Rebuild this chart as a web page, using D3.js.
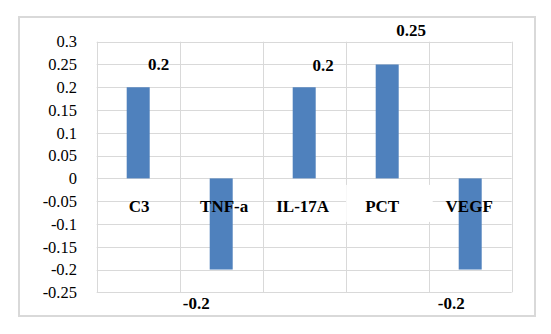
<!DOCTYPE html>
<html>
<head>
<meta charset="utf-8">
<script src="https://cdn.jsdelivr.net/npm/d3@7"></script>
<style>
  html, body { margin: 0; padding: 0; background: #fff; }
  svg { display: block; }
  svg text { font-family: "Liberation Serif", "Times New Roman", Times, serif; }
</style>
</head>
<body>
<svg id="chart" width="551" height="334"></svg>
<script>
const categories = ["C3", "TNF-a", "IL-17A", "PCT", "VEGF"];
const values = [0.2, -0.2, 0.2, 0.25, -0.2];
const valueLabels = ["0.2", "-0.2", "0.2", "0.25", "-0.2"];
const yTicks = [0.3, 0.25, 0.2, 0.15, 0.1, 0.05, 0, -0.05, -0.1, -0.15, -0.2, -0.25];
const yTickLabels = ["0.3", "0.25", "0.2", "0.15", "0.1", "0.05", "0", "-0.05", "-0.1", "-0.15", "-0.2", "-0.25"];

// layout-only offsets for the manually placed data labels (pixels)
const labelDx = [20.5, -25, 19, 24, -19];
const labelDy = [-17, 39, -16, -28, 39];
const catLabelDx = [1, 3, -1.5, -5, -1];

const W = 551, H = 334;
const plot = { left: 96.7, right: 511.7, top: 41.7, bottom: 292.3 };
const barW = 23;
const gridColor = "#d9d9d9";
const barColor = "#4f81bd";

const svg = d3.select("#chart");
svg.append("rect").attr("width", W).attr("height", H).attr("fill", "#fff");

// outer chart border
svg.append("rect")
  .attr("x", 19).attr("y", 17).attr("width", 516).attr("height", 299)
  .attr("fill", "none").attr("stroke", gridColor).attr("stroke-width", 2);

const x = d3.scaleBand().domain(categories).range([plot.left, plot.right]).paddingInner(0).paddingOuter(0);
const y = d3.scaleLinear().domain([-0.25, 0.3]).range([plot.bottom, plot.top]);

// horizontal gridlines
svg.append("g").selectAll("line").data(yTicks).join("line")
  .attr("x1", plot.left).attr("x2", plot.right)
  .attr("y1", d => Math.round(y(d)) + 0.5).attr("y2", d => Math.round(y(d)) + 0.5)
  .attr("stroke", gridColor).attr("stroke-width", 1);

// vertical gridlines at category boundaries
const edges = categories.map(c => x(c)).concat([plot.right]);
svg.append("g").selectAll("line").data(edges).join("line")
  .attr("x1", d => Math.round(d) + 0.5).attr("x2", d => Math.round(d) + 0.5)
  .attr("y1", plot.top).attr("y2", plot.bottom)
  .attr("stroke", gridColor).attr("stroke-width", 1);

// y tick labels
svg.append("g").selectAll("text").data(yTicks).join("text")
  .attr("x", 77).attr("y", d => y(d))
  .attr("dy", "0.35em")
  .attr("text-anchor", "end")
  .attr("font-size", 16.5)
  .attr("fill", "#000")
  .text((d, i) => yTickLabels[i]);

// bars
const cx = c => x(c) + x.bandwidth() / 2;
svg.append("g").selectAll("rect").data(categories).join("rect")
  .attr("x", c => cx(c) - barW / 2)
  .attr("width", barW)
  .attr("y", (c, i) => y(Math.max(0, values[i])))
  .attr("height", (c, i) => Math.abs(y(values[i]) - y(0)))
  .attr("fill", barColor);

// white box behind PCT label
const pctI = categories.indexOf("PCT");
svg.append("rect")
  .attr("x", x(categories[pctI]) + 0.5)
  .attr("y", y(0) + 6.5)
  .attr("width", x.bandwidth() + 3.5)
  .attr("height", 37)
  .attr("fill", "#fff");

// category labels
svg.append("g").selectAll("text").data(categories).join("text")
  .attr("x", (c, i) => cx(c) + catLabelDx[i])
  .attr("y", y(0) + 34)
  .attr("text-anchor", "middle")
  .attr("font-size", 17).attr("font-weight", "bold")
  .attr("fill", "#000")
  .text(c => c);

// data labels
svg.append("g").selectAll("text").data(categories).join("text")
  .attr("x", (c, i) => cx(c) + labelDx[i])
  .attr("y", (c, i) => y(values[i]) + labelDy[i])
  .attr("text-anchor", "middle")
  .attr("font-size", 17).attr("font-weight", "bold")
  .attr("fill", "#000")
  .text((c, i) => valueLabels[i]);
</script>
</body>
</html>
